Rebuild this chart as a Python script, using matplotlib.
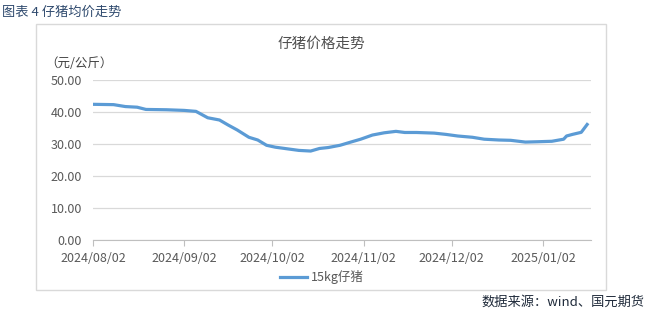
import matplotlib
matplotlib.use("Agg")
import matplotlib.pyplot as plt
import matplotlib.dates as mdates
from matplotlib.patches import Rectangle
import pandas as pd

plt.rcParams['font.family'] = ['Noto Sans CJK SC', 'DejaVu Sans']

# 15kg仔猪 price (元/公斤)
dates = ["2024-08-02", "2024-08-09", "2024-08-13", "2024-08-17", "2024-08-20",
         "2024-08-27", "2024-09-02", "2024-09-06", "2024-09-10", "2024-09-14",
         "2024-09-17", "2024-09-20", "2024-09-24", "2024-09-27", "2024-09-30",
         "2024-10-03", "2024-10-07", "2024-10-11", "2024-10-15", "2024-10-18",
         "2024-10-21", "2024-10-25", "2024-10-29", "2024-11-01", "2024-11-05",
         "2024-11-09", "2024-11-13", "2024-11-16", "2024-11-20", "2024-11-26",
         "2024-11-30", "2024-12-04", "2024-12-09", "2024-12-13", "2024-12-18",
         "2024-12-22", "2024-12-27", "2024-12-31", "2025-01-05", "2025-01-09",
         "2025-01-10", "2025-01-12", "2025-01-15", "2025-01-17"]
prices = [42.4, 42.3, 41.7, 41.5, 40.8,
          40.7, 40.5, 40.2, 38.2, 37.5,
          35.9, 34.4, 32.1, 31.25, 29.6,
          29.0, 28.5, 28.0, 27.8, 28.6,
          28.9, 29.6, 30.7, 31.5, 32.8,
          33.5, 33.95, 33.6, 33.6, 33.4,
          33.0, 32.5, 32.1, 31.5, 31.25,
          31.15, 30.6, 30.7, 30.85, 31.5,
          32.5, 33.0, 33.65, 36.1]
tick_dates = ["2024-08-02", "2024-09-02", "2024-10-02", "2024-11-02",
              "2024-12-02", "2025-01-02"]
y_ticks = [0, 10, 20, 30, 40, 50]

x = pd.to_datetime(dates)
xt = pd.to_datetime(tick_dates)

fig = plt.figure(figsize=(6.47, 3.13), dpi=100)

# outer chart frame
fig.patches.append(Rectangle((36 / 647, 1 - 290 / 313), 570 / 647, 266 / 313,
                             transform=fig.transFigure, fill=False,
                             edgecolor='#d9d9d9', linewidth=1))

ax = fig.add_axes([93 / 647, 1 - 240 / 313, 497.7 / 647, 160 / 313])
ax.plot(x, prices, color='#5b9bd5', linewidth=2.3, label='15kg仔猪')

ax.set_xlim(pd.Timestamp("2024-08-02"), pd.Timestamp("2025-01-18 05:00"))
ax.set_ylim(0, 50)
ax.set_yticks(y_ticks)
ax.set_yticklabels(['%.2f' % v for v in y_ticks])
ax.set_xticks(xt)
ax.xaxis.set_major_formatter(mdates.DateFormatter('%Y/%m/%d'))

ax.grid(axis='y', color='#d9d9d9', linewidth=0.9)
ax.set_axisbelow(True)
for s in ['top', 'right', 'left']:
    ax.spines[s].set_visible(False)
ax.spines['bottom'].set_color('#bfbfbf')
ax.tick_params(axis='y', length=0, pad=8, labelsize=9, labelcolor='#595959')
ax.tick_params(axis='x', length=4, color='#bfbfbf', pad=5, labelsize=9,
               labelcolor='#595959')

fig.text(321 / 647, 1 - 44 / 313, '仔猪价格走势', ha='center', va='center',
         fontsize=10.5, color='#505050')
fig.text(45 / 647, 1 - 63 / 313, '（元/公斤）', ha='left', va='center',
         fontsize=9, color='#404040')

leg = fig.legend(loc='center', bbox_to_anchor=(322 / 647, 1 - 277 / 313),
                 frameon=False, fontsize=9, handlelength=2.2, handletextpad=0.3)
for t in leg.get_texts():
    t.set_color('#595959')

fig.text(2 / 647, 1 - 12 / 313, '图表 4 仔猪均价走势', ha='left', va='center',
         fontsize=9.5, color='#2f4a6e')
fig.text(645 / 647, 1 - 302 / 313, '数据来源：wind、国元期货', ha='right',
         va='center', fontsize=9.5, color='#1f2a3a')

fig.savefig('out.png', dpi=100)
